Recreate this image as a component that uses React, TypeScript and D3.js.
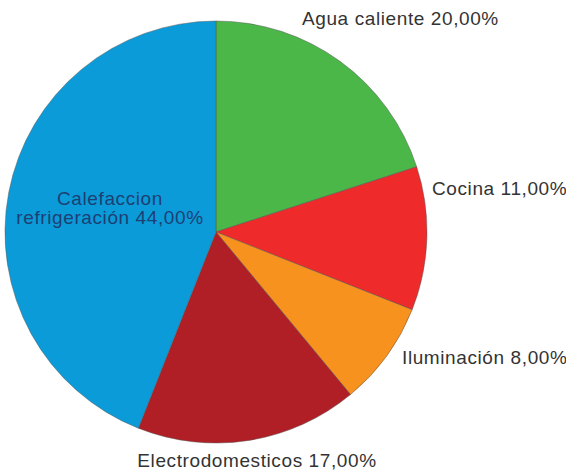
import React from "react";
import * as d3 from "d3";

const categories = ["Agua caliente", "Cocina", "Iluminación", "Electrodomesticos", "Calefaccion refrigeración"];
const values = [20, 11, 8, 17, 44];
const colors = ["#4bb749", "#ee2a2a", "#f7921e", "#b01f26", "#0b9bd9"];

const W = 566, H = 470;
const cx = 216, cy = 232, R = 211;

// label anchor positions (outside labels)
const labelPos: { x: number; y: number; anchor: string }[] = [
  { x: 302, y: 25, anchor: "start" },
  { x: 432, y: 195, anchor: "start" },
  { x: 402, y: 364, anchor: "start" },
  { x: 257, y: 467, anchor: "middle" },
  { x: 110, y: 205, anchor: "middle" },
];

const fmt = (v: number) => v.toFixed(2).replace(".", ",") + "%";
const FONT = "Liberation Sans, Arial, Helvetica, sans-serif";

export default function App() {
  const pie = d3.pie<number>().sort(null).value((d) => d)(values);
  const arc = d3.arc<d3.PieArcDatum<number>>().innerRadius(0).outerRadius(R);
  return (
    <svg width={W} height={H} style={{ position: "absolute", left: 0, top: 0, background: "#fff" }}>
      <g transform={`translate(${cx},${cy})`}>
        {pie.map((p, i) => (
          <path key={i} d={arc(p) || ""} fill={colors[i]} stroke="#555" strokeWidth={0.8} strokeOpacity={0.6} />
        ))}
      </g>
      {categories.map((c, i) => {
        const lp = labelPos[i];
        if (i === 4) {
          const parts = c.split(" ");
          return (
            <text key={i} x={lp.x} y={lp.y} textAnchor="middle" fontFamily={FONT} fontSize={19} letterSpacing={0.6} fill="#1d3f73">
              <tspan x={lp.x} dy={0}>{parts[0]}</tspan>
              <tspan x={lp.x} dy={19}>{parts[1] + " " + fmt(values[i])}</tspan>
            </text>
          );
        }
        return (
          <text key={i} x={lp.x} y={lp.y} textAnchor={lp.anchor as any} fontFamily={FONT} fontSize={19} letterSpacing={0.6} fill="#333">
            {c + " " + fmt(values[i])}
          </text>
        );
      })}
    </svg>
  );
}
